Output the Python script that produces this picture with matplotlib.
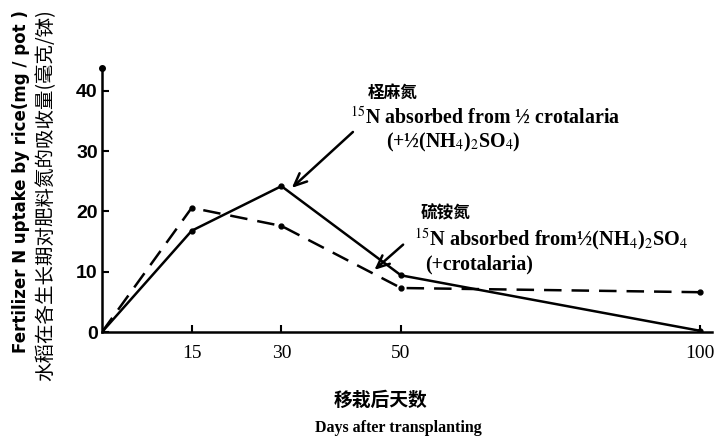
import matplotlib.pyplot as plt

# 数据
days = [0, 15, 30, 50, 100]
crotalaria_n = [0, 16.8, 24.2, 9.4, 0.2]     # 柽麻氮 (实线)
ammonium_n = [0, 20.6, 17.6, 7.3, 6.6]       # 硫铵氮 (虚线)
x_ticks = [15, 30, 50, 100]
y_ticks = [0, 10, 20, 30, 40]

plt.rcParams['font.family'] = ['Liberation Serif', 'Noto Sans CJK SC']
plt.rcParams['mathtext.fontset'] = 'stix'
cjk = ['Noto Sans CJK SC', 'DejaVu Sans']

fig = plt.figure(figsize=(7.14, 4.4), dpi=100)
ax = fig.add_axes([102 / 714, 108 / 440, 610 / 714, 264 / 440])

ax.plot(days, crotalaria_n, color='black', lw=1.8, marker='o', ms=3.5)
ax.plot(days, ammonium_n, color='black', lw=1.8, ls=(0, (7, 4)), marker='o', ms=3.5)

ax.set_xlim(0, 102)
ax.set_ylim(0, 43.8)
for s in ['top', 'right']:
    ax.spines[s].set_visible(False)
for s in ['left', 'bottom']:
    ax.spines[s].set_linewidth(1.8)
# 纵轴顶端的小圆点
ax.plot([0], [43.8], 'o', color='black', ms=4, clip_on=False)

ax.set_xticks(x_ticks)
ax.set_yticks(y_ticks)
ax.tick_params(direction='in', length=5, width=1.5)
ax.tick_params(axis='x', pad=9)
ax.tick_params(axis='y', pad=3)
for t in ax.get_xticklabels():
    t.set_fontsize(14)
    t.set_fontfamily('Liberation Serif')
for t in ax.get_yticklabels():
    t.set_fontsize(14)
    t.set_fontfamily(['Liberation Sans', 'DejaVu Sans'])
    t.set_fontweight('bold')

# 纵轴标题
fig.text(21 / 714, 1 - 182 / 440, "Fertilizer N uptake by rice(mg / pot )", rotation=90,
         ha='center', va='center', fontsize=12, fontweight='bold', family=['DejaVu Sans'])
fig.text(46 / 714, 1 - 195 / 440, "水稻在各生长期对肥料氮的吸收量(毫克/钵)", rotation=90,
         ha='center', va='center', fontsize=14, family=cjk)

# 横轴标题
fig.text(381 / 714, 1 - 400 / 440, "移栽后天数", ha='center', va='center',
         fontsize=13.5, fontweight='bold', family=cjk)
fig.text(398 / 714, 1 - 428 / 440, "Days after transplanting", ha='center', va='center',
         fontsize=11.5, fontweight='bold')

# 注释 1: 柽麻氮
ax.text(44.5, 39.6, "柽麻氮", ha='left', va='center', fontsize=12, fontweight='bold', family=cjk)
ax.text(41.5, 35.5, r"$^{15}$N absorbed from ½ crotalaria", ha='left', va='center',
        fontsize=14.3, fontweight='bold')
ax.text(47.5, 31.5, r"(+½(NH$_4$)$_2$SO$_4$)", ha='left', va='center',
        fontsize=14.3, fontweight='bold')
ax.annotate("", xy=(31.4, 23.6), xytext=(42.3, 33.5),
            arrowprops=dict(arrowstyle='->, head_length=0.9, head_width=0.4', color='black', lw=1.8))

# 注释 2: 硫铵氮
ax.text(53.3, 19.6, "硫铵氮", ha='left', va='center', fontsize=12, fontweight='bold', family=cjk)
ax.text(52.2, 15.3, r"$^{15}$N absorbed from½(NH$_4$)$_2$SO$_4$", ha='left', va='center',
        fontsize=14.6, fontweight='bold')
ax.text(54, 11.2, "(+crotalaria)", ha='left', va='center', fontsize=14.3, fontweight='bold')
ax.annotate("", xy=(45.2, 10.0), xytext=(50.7, 14.8),
            arrowprops=dict(arrowstyle='->, head_length=0.9, head_width=0.4', color='black', lw=1.8))

fig.savefig('out.png', dpi=100)
